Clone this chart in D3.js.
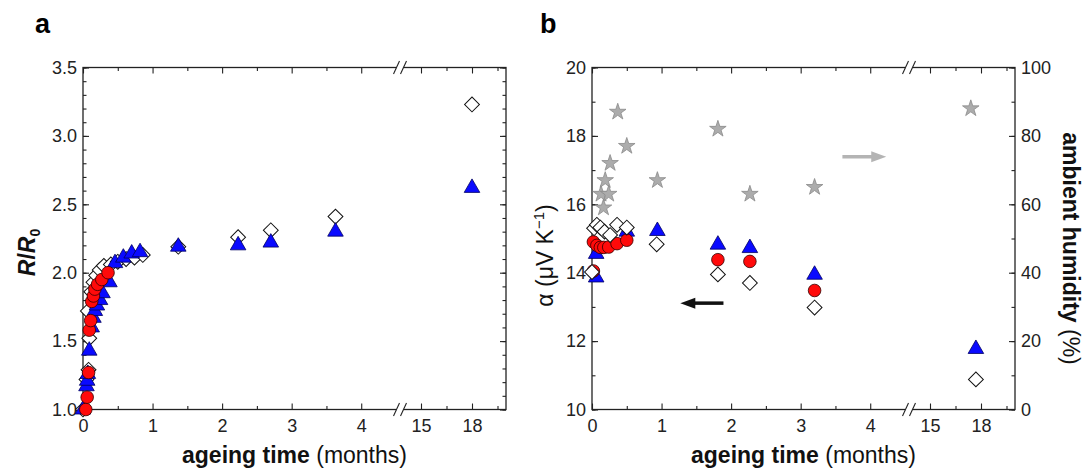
<!DOCTYPE html>
<html>
<head>
<meta charset="utf-8">
<script src="https://cdn.jsdelivr.net/npm/d3@7"></script>
<style>
  body { margin: 0; background: #fff; }
  svg text { font-family: "Liberation Sans", Arial, sans-serif; }
</style>
</head>
<body>
<div id="output"></div>
<script>
var w = 1088;   // svg width
var h = 468;    // svg height

// ---- panel a : R/R0 vs ageing time (months)
var aDiaT = [0, 0.05, 0.08, 0.07, 0.09, 0.12, 0.15, 0.19, 0.24, 0.3, 0.4, 0.5, 0.62, 0.74, 0.86, 1.37, 2.23, 2.7, 3.63, 18];
var aDiaR = [1.0, 1.22, 1.29, 1.72, 1.52, 1.86, 1.93, 1.98, 2.02, 2.05, 2.06, 2.08, 2.1, 2.11, 2.13, 2.19, 2.26, 2.31, 2.41, 3.23];
var aTriT = [0.0, 0.05, 0.06, 0.07, 0.09, 0.125, 0.15, 0.17, 0.2, 0.245, 0.28, 0.38, 0.46, 0.58, 0.7, 0.82, 1.37, 2.23, 2.7, 3.63, 18];
var aTriR = [1.0, 1.17, 1.21, 1.26, 1.43, 1.6, 1.67, 1.72, 1.76, 1.8, 1.85, 1.93, 2.07, 2.11, 2.14, 2.15, 2.19, 2.2, 2.22, 2.3, 2.62];
var aCirT = [0.04, 0.06, 0.08, 0.09, 0.11, 0.125, 0.15, 0.17, 0.21, 0.27, 0.36];
var aCirR = [1.0, 1.09, 1.27, 1.58, 1.65, 1.79, 1.83, 1.88, 1.915, 1.95, 2.0];

// ---- panel b : Seebeck coefficient (left) and humidity (right)
var bStarT = [0.13, 0.165, 0.19, 0.24, 0.26, 0.37, 0.5, 0.94, 1.81, 2.27, 3.2, 17.4];
var bStarH = [63, 59, 67, 63, 72, 87, 77, 67, 82, 63, 65, 88];
var bTriT = [0.06, 0.06, 0.5, 0.94, 1.81, 2.27, 3.2, 17.7];
var bTriA = [13.86, 14.55, 15.2, 15.22, 14.82, 14.72, 13.94, 11.77];
var bCirT = [0.02, 0.02, 0.07, 0.12, 0.17, 0.24, 0.36, 0.5, 1.81, 2.27, 3.2];
var bCirA = [14.05, 14.9, 14.8, 14.74, 14.74, 14.75, 14.85, 14.95, 14.38, 14.33, 13.48];
var bDiaT = [0, 0.03, 0.07, 0.12, 0.18, 0.26, 0.36, 0.5, 0.93, 1.81, 2.27, 3.2, 17.7];
var bDiaA = [14.02, 15.3, 15.4, 15.32, 15.2, 15.1, 15.4, 15.32, 14.83, 13.95, 13.7, 12.98, 10.88];

// tick labels
var xTicksL = [0, 1, 2, 3, 4];
var xTicksR = [15, 18];
var xMinorL = [0.5, 1.5, 2.5, 3.5];
var xMinorR = [16.5, 19.5];
var aYTicks = [1.0, 1.5, 2.0, 2.5, 3.0, 3.5];
var bYTicks = [10, 12, 14, 16, 18, 20];
var humTicks = [0, 20, 40, 60, 80, 100];

// arrows in panel b (months, value)
var blackArrow = [[1.89, 13.11], [1.27, 13.11]];
var grayArrow = [[3.6, 73.9], [4.23, 73.9]];

var pw = 423, ph = 342;     // plot size
var fs = 18;                // tick font size

var svg = d3.select('#output').append('svg')
  .attr('width', w)
  .attr('height', h);

// broken x scale: 0..4.5 then 14..20
var xL = d3.scaleLinear().domain([0, 4.5]).range([0, 313]);
var xR = d3.scaleLinear().domain([14, 20]).range([321, pw]);
function xPos(t) { return t <= 4.5 ? xL(t) : xR(t); }
var breakX = 317;

function styleAxis(sel) {
  sel.select('.domain').remove();
  sel.attr('font-size', fs).attr('font-family', '"Liberation Sans", Arial, sans-serif').attr('color', '#222');
  sel.selectAll('line').attr('stroke-width', 1.1);
}

function frame(g, y, yTicks, yMinor, yFmt, mirrorRight) {
  // bottom axis, labelled, ticks pointing in
  g.append('g').attr('transform', 'translate(0,' + ph + ')')
    .call(d3.axisBottom(xL).tickValues(xTicksL).tickSize(-6).tickPadding(10).tickFormat(d3.format('d'))).call(styleAxis);
  g.append('g').attr('transform', 'translate(0,' + ph + ')')
    .call(d3.axisBottom(xR).tickValues(xTicksR).tickSize(-6).tickPadding(10).tickFormat(d3.format('d'))).call(styleAxis);
  g.append('g').attr('transform', 'translate(0,' + ph + ')')
    .call(d3.axisBottom(xL).tickValues(xMinorL).tickSize(-3.5).tickFormat('')).call(styleAxis);
  g.append('g').attr('transform', 'translate(0,' + ph + ')')
    .call(d3.axisBottom(xR).tickValues(xMinorR).tickSize(-3.5).tickFormat('')).call(styleAxis);
  // top axis, ticks only
  g.append('g').call(d3.axisTop(xL).tickValues(xTicksL).tickSize(-6).tickFormat('')).call(styleAxis);
  g.append('g').call(d3.axisTop(xR).tickValues(xTicksR).tickSize(-6).tickFormat('')).call(styleAxis);
  g.append('g').call(d3.axisTop(xL).tickValues(xMinorL).tickSize(-3.5).tickFormat('')).call(styleAxis);
  g.append('g').call(d3.axisTop(xR).tickValues(xMinorR).tickSize(-3.5).tickFormat('')).call(styleAxis);
  // left axis
  g.append('g').call(d3.axisLeft(y).tickValues(yTicks).tickSize(-6).tickPadding(6).tickFormat(yFmt)).call(styleAxis);
  g.append('g').call(d3.axisLeft(y).tickValues(yMinor).tickSize(-3.5).tickFormat('')).call(styleAxis);
  if (mirrorRight) {
    g.append('g').attr('transform', 'translate(' + pw + ',0)')
      .call(d3.axisRight(y).tickValues(yTicks).tickSize(-6).tickFormat('')).call(styleAxis);
    g.append('g').attr('transform', 'translate(' + pw + ',0)')
      .call(d3.axisRight(y).tickValues(yMinor).tickSize(-3.5).tickFormat('')).call(styleAxis);
  }
  // box
  g.append('rect').attr('width', pw).attr('height', ph)
    .attr('fill', 'none').attr('stroke', '#222').attr('stroke-width', 1.3);
  // axis break marks on top and bottom
  [0, ph].forEach(function (yy) {
    g.append('rect').attr('x', breakX - 3.5).attr('y', yy - 2).attr('width', 7).attr('height', 4).attr('fill', '#fff');
    [-3.5, 3.5].forEach(function (dx) {
      g.append('line')
        .attr('x1', breakX + dx - 3).attr('y1', yy + 6.5)
        .attr('x2', breakX + dx + 3).attr('y2', yy - 6.5)
        .attr('stroke', '#222').attr('stroke-width', 1.1);
    });
  });
  // x title
  var t = g.append('text').attr('x', pw / 2).attr('y', ph + 53.5)
    .attr('text-anchor', 'middle').attr('font-size', 23).attr('fill', '#111');
  t.append('tspan').attr('font-weight', 'bold').text('ageing time');
  t.append('tspan').text(' (months)');
}

function range(n, step, start) {
  var out = [];
  for (var i = 0; i <= n; i++) out.push(+(start + i * step).toFixed(2));
  return out;
}

// markers
var triPath = d3.symbol().type(d3.symbolTriangle).size(105)();
var diaPath = d3.symbol().type(d3.symbolSquare).size(110)();
var starPath = d3.symbol().type(d3.symbolStar).size(85)();

function drawDiamonds(g, ts, vs, y) {
  g.selectAll(null).data(ts).enter().append('path')
    .attr('d', diaPath)
    .attr('transform', function (d, i) { return 'translate(' + xPos(d) + ',' + y(vs[i]) + ') rotate(45)'; })
    .attr('fill', '#fff').attr('stroke', '#111').attr('stroke-width', 1);
}
function drawTriangles(g, ts, vs, y) {
  g.selectAll(null).data(ts).enter().append('path')
    .attr('d', triPath)
    .attr('transform', function (d, i) { return 'translate(' + xPos(d) + ',' + y(vs[i]) + ')'; })
    .attr('fill', '#0a0aff').attr('stroke', '#000060').attr('stroke-width', 0.8);
}
function drawCircles(g, ts, vs, y) {
  g.selectAll(null).data(ts).enter().append('circle')
    .attr('cx', function (d) { return xPos(d); })
    .attr('cy', function (d, i) { return y(vs[i]); })
    .attr('r', 6.3)
    .attr('fill', '#ff0a0a').attr('stroke', '#300').attr('stroke-width', 0.8);
}

// ================= panel a
var ga = svg.append('g').attr('transform', 'translate(83,67.5)');
var yA = d3.scaleLinear().domain([1.0, 3.5]).range([ph, 0]);
frame(ga, yA, aYTicks, range(25, 0.1, 1.0), d3.format('.1f'), true);
drawDiamonds(ga, aDiaT, aDiaR, yA);
drawTriangles(ga, aTriT, aTriR, yA);
drawCircles(ga, aCirT, aCirR, yA);

var ya = ga.append('text').attr('transform', 'translate(-48,' + 185 + ') rotate(-90)')
  .attr('text-anchor', 'middle').attr('font-size', 23).attr('font-weight', 'bold').attr('fill', '#111');
ya.append('tspan').attr('font-style', 'italic').text('R');
ya.append('tspan').text('/');
ya.append('tspan').attr('font-style', 'italic').text('R');
ya.append('tspan').attr('font-size', 14).attr('dy', 5).text('0');

svg.append('text').attr('x', 35).attr('y', 33).attr('font-size', 27).attr('font-weight', 'bold').text('a');

// ================= panel b
var gb = svg.append('g').attr('transform', 'translate(592,67.5)');
var yB = d3.scaleLinear().domain([10, 20]).range([ph, 0]);
var yH = d3.scaleLinear().domain([0, 100]).range([ph, 0]);
frame(gb, yB, bYTicks, range(10, 1, 10), d3.format('d'), false);
gb.append('g').attr('transform', 'translate(' + pw + ',0)')
  .call(d3.axisRight(yH).tickValues(humTicks).tickSize(-6).tickPadding(6).tickFormat(d3.format('d'))).call(styleAxis);
gb.append('g').attr('transform', 'translate(' + pw + ',0)')
  .call(d3.axisRight(yH).tickValues(range(10, 10, 0)).tickSize(-3.5).tickFormat('')).call(styleAxis);

gb.selectAll('.star').data(bStarT).enter().append('path')
  .attr('class', 'star')
  .attr('d', starPath)
  .attr('transform', function (d, i) { return 'translate(' + xPos(d) + ',' + yH(bStarH[i]) + ')'; })
  .attr('fill', '#acacac').attr('stroke', '#8a8a8a').attr('stroke-width', 0.8);
drawTriangles(gb, bTriT, bTriA, yB);
drawCircles(gb, bCirT, bCirA, yB);
drawDiamonds(gb, bDiaT, bDiaA, yB);

// arrows
function arrow(g, pts, y, color) {
  var x1 = xPos(pts[0][0]), x2 = xPos(pts[1][0]), yy = y(pts[0][1]);
  var dir = x2 > x1 ? 1 : -1;
  g.append('line').attr('x1', x1).attr('y1', yy).attr('x2', x2 - dir * 12).attr('y2', yy)
    .attr('stroke', color).attr('stroke-width', 3.5);
  g.append('path')
    .attr('d', 'M' + x2 + ',' + yy + 'L' + (x2 - dir * 15) + ',' + (yy - 5.5) + 'L' + (x2 - dir * 15) + ',' + (yy + 5.5) + 'Z')
    .attr('fill', color);
}
arrow(gb, blackArrow, yB, '#111');
arrow(gb, grayArrow, yH, '#b4b4b4');

var yb = gb.append('text').attr('transform', 'translate(-39,' + 188 + ') rotate(-90)')
  .attr('text-anchor', 'middle').attr('font-size', 23).attr('fill', '#111');
yb.append('tspan').text('\u03b1 (\u03bcV K');
yb.append('tspan').attr('font-size', 15).attr('dy', -9).text('\u22121');
yb.append('tspan').attr('dy', 9).text(')');

var yr = gb.append('text').attr('transform', 'translate(' + (pw + 48) + ',' + 181 + ') rotate(90)')
  .attr('text-anchor', 'middle').attr('font-size', 23).attr('fill', '#111');
yr.append('tspan').attr('font-weight', 'bold').text('ambient humidity');
yr.append('tspan').text(' (%)');

svg.append('text').attr('x', 540).attr('y', 33).attr('font-size', 27).attr('font-weight', 'bold').text('b');
</script>
</body>
</html>
